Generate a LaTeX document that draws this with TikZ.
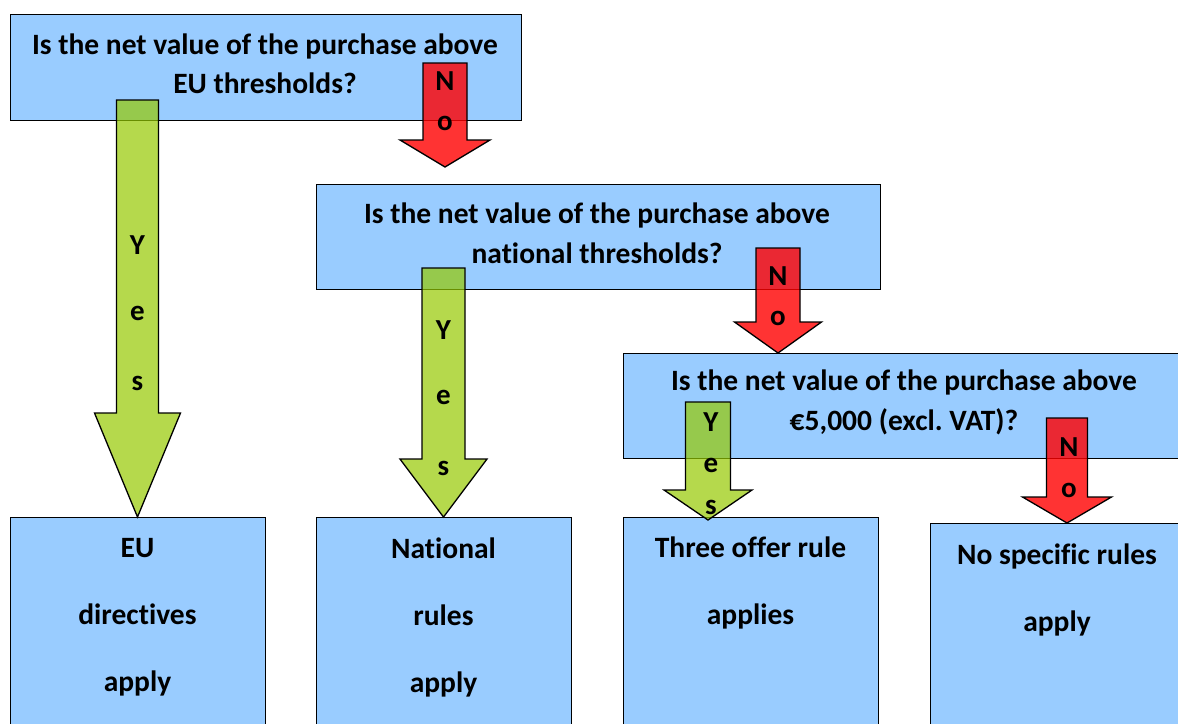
\documentclass[tikz,border=0pt]{standalone}
\usepackage{fontspec}
\setmainfont{Carlito}[Ligatures={NoCommon,NoDiscretionary,NoContextual}]
\usetikzlibrary{calc}
\frenchspacing
\definecolor{boxblue}{RGB}{153,204,255}
\definecolor{argreen}{RGB}{149,201,0}
\definecolor{arred}{RGB}{255,0,0}
\tikzset{
  qbox/.style={draw=black, line width=1.3pt, fill=boxblue, rectangle, inner sep=0pt, anchor=north west},
  qtxt/.style={font=\bfseries\fontsize{29.5}{39.5}\selectfont, align=center, inner sep=0pt},
  atxt/.style={font=\bfseries\fontsize{29.5}{67}\selectfont, align=center, inner sep=0pt},
  letter/.style={font=\bfseries\fontsize{29}{30}\selectfont, inner sep=0pt},
  yesarrow/.style={fill=argreen, fill opacity=0.7, draw=black, line width=1.3pt},
  noarrow/.style={fill=arred, fill opacity=0.8, draw=black, line width=1.3pt}
}
\newcommand{\blockarrow}[6]{%
  \draw[#6] let \p1=(#1), \p2=(#2) in
  (\x1-#3pt,\y1) -- (\x1+#3pt,\y1) -- (\x1+#3pt,\y2+#5pt) -- (\x1+#4pt,\y2+#5pt)
  -- (\x1,\y2) -- (\x1-#4pt,\y2+#5pt) -- (\x1-#3pt,\y2+#5pt) -- cycle;}
\begin{document}
\begin{tikzpicture}[x=1pt,y=-1pt]
\useasboundingbox (0,0) rectangle (1178,723);
% boxes
\node[qbox, minimum width=511pt, minimum height=106pt] (q1) at (9.5,14) {};
\node[qbox, minimum width=564pt, minimum height=105pt] (q2) at (316,184) {};
\node[qbox, minimum width=562pt, minimum height=105pt] (q3) at (623,353) {};
\node[qbox, minimum width=255pt, minimum height=230pt] (eu) at (10,517) {};
\node[qbox, minimum width=255pt, minimum height=230pt] (nat) at (316,517) {};
\node[qbox, minimum width=255pt, minimum height=230pt] (three) at (623,517) {};
\node[qbox, minimum width=255pt, minimum height=230pt] (nospec) at (930,523) {};
% texts
\node[qtxt] (q1t) at (265,64) {Is the net value of the purchase above\\EU thresholds?};
\node[qtxt] (q2t) at (597,233.5) {Is the net value of the purchase above\\national thresholds?};
\node[qtxt] (q3t) at (904,402.5) {Is the net value of the purchase above\\€5,000 (excl. VAT)?};
\node[atxt] (eut) at (137.5,617) {EU\\directives\\apply};
\node[atxt] (natt) at (443.5,617) {National\\rules\\apply};
\node[atxt] (threet) at (750.5,583) {Three offer rule\\applies};
\node[atxt] (nospect) at (1057,590) {No specific rules\\apply};
% arrow anchors
\coordinate (g1a) at (137.5,100);
\coordinate (r1a) at (445,63);
\coordinate (r1b) at (445,167);
\coordinate (g2a) at (443.5,268);
\coordinate (r2a) at (778,248);
\coordinate (r2b) at (778,353);
\coordinate (g3a) at (708,402);
\coordinate (g3b) at (708,520);
\coordinate (r3a) at (1067,418);
\coordinate (r3b) at (1067,523);
% arrows
\blockarrow{g1a}{eu.north}{21}{43}{104}{yesarrow}
\blockarrow{r1a}{r1b}{22}{45}{27}{noarrow}
\blockarrow{g2a}{nat.north}{21.5}{43.5}{58}{yesarrow}
\blockarrow{r2a}{r2b}{22}{43.5}{31}{noarrow}
\blockarrow{g3a}{g3b}{22.5}{44}{30}{yesarrow}
\blockarrow{r3a}{r3b}{20.5}{44.5}{26}{noarrow}
% letters
\node[letter] (y1) at (137.5,245) {Y};
\node[letter] (e1) at (137.5,313) {e};
\node[letter] (s1) at (137.5,383) {s};
\node[letter] (n1) at (445,81) {N};
\node[letter] (o1) at (445,123) {o};
\node[letter] (y2) at (443.5,330) {Y};
\node[letter] (e2) at (443.5,397) {e};
\node[letter] (s2) at (443.5,468) {s};
\node[letter] (n2) at (778,276) {N};
\node[letter] (o2) at (778,318) {o};
\node[letter] (y3) at (711,422) {Y};
\node[letter] (e3) at (711,465) {e};
\node[letter] (s3) at (711,507) {s};
\node[letter] (n3) at (1069,447) {N};
\node[letter] (o3) at (1069,490) {o};
\end{tikzpicture}
\end{document}
